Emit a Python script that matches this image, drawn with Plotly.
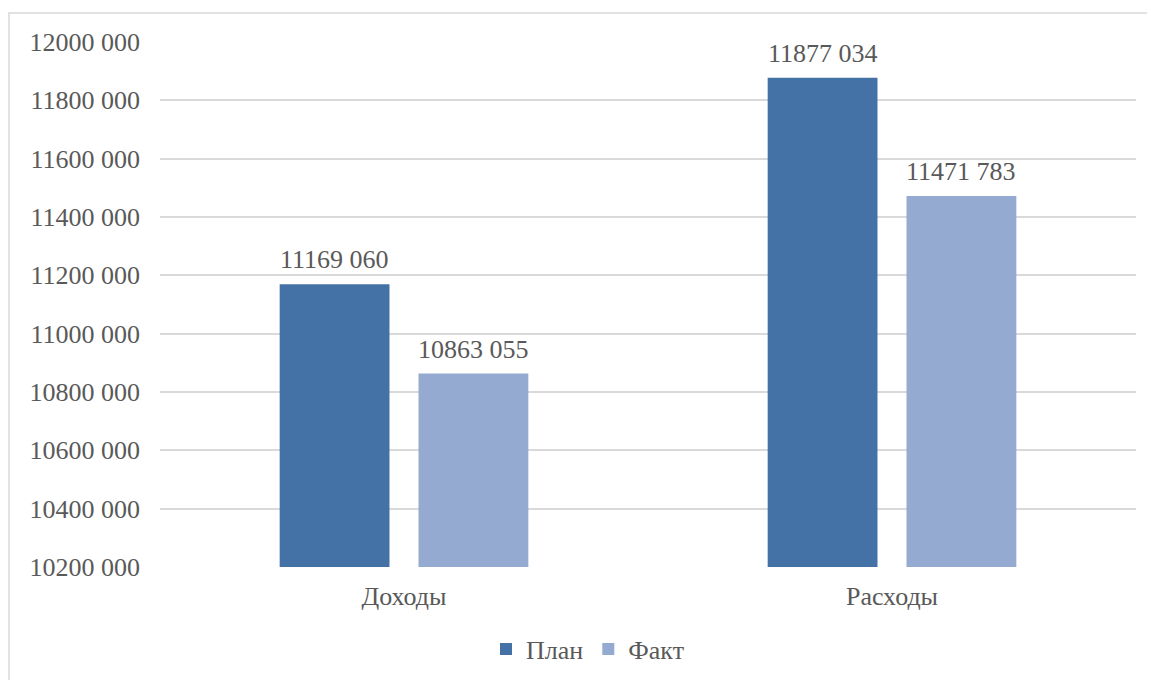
import plotly.graph_objects as go

categories = ["Доходы", "Расходы"]
plan_values = [11169060, 11877034]
fact_values = [10863055, 11471783]
series_names = ["План", "Факт"]
y_tick_values = [10200000, 10400000, 10600000, 10800000, 11000000,
                 11200000, 11400000, 11600000, 11800000, 12000000]


def fmt(v):
    return f"{v // 1000}\u00a0{v % 1000:03d}"


y_tick_text = [fmt(v) for v in y_tick_values]

W, H = 1155, 680
L, T = 152, 34
R = W - 1128
B = H - 559
FONT = "Liberation Serif"
FS = 26
TXT = "#595959"
C_PLAN = "#4472A6"
C_FACT = "#95AAD0"

fig = go.Figure()
fig.add_trace(go.Bar(name=series_names[0], x=categories, y=plan_values,
                     marker=dict(color=C_PLAN, line=dict(width=0))))
fig.add_trace(go.Bar(name=series_names[1], x=categories, y=fact_values,
                     marker=dict(color=C_FACT, line=dict(width=0))))

plot_w = W - L - R
plot_h = H - T - B
cat_w = plot_w / len(categories)
bargap = 0.431
slot = cat_w * (1 - bargap) / 2

for vals, sign in ((plan_values, -1), (fact_values, 1)):
    for c, v in zip(categories, vals):
        fig.add_annotation(x=c, y=v, text=fmt(v), showarrow=False,
                           xref="x", yref="y", yanchor="bottom",
                           xshift=sign * slot / 2, yshift=8,
                           font=dict(family=FONT, size=FS, color=TXT))

# chart-area border (only top and left visible in frame)
x0p = (1 - L) / plot_w
x1p = (W + 20 - L) / plot_w
y1p = (H - B - 5) / plot_h
y0p = (H - B - (H + 20)) / plot_h
fig.add_shape(type="rect", xref="paper", yref="paper",
              x0=x0p, x1=x1p, y0=y0p, y1=y1p,
              line=dict(color="#D9D9D9", width=1.5), layer="below")

fig.update_layout(
    width=W, height=H,
    margin=dict(l=L, r=R, t=T, b=B, autoexpand=False),
    paper_bgcolor="white", plot_bgcolor="white",
    barmode="group", bargap=bargap, bargroupgap=0.209,
    font=dict(family=FONT, size=FS, color=TXT),
    showlegend=True,
    legend=dict(orientation="h", x=(478 - L) / plot_w, xanchor="left",
                y=(H - B - 641) / plot_h, yanchor="middle",
                font=dict(family=FONT, size=FS, color=TXT),
                itemwidth=30, traceorder="normal"),
    xaxis=dict(showgrid=False, showline=False, ticks="",
               ticklabelstandoff=11,
               tickfont=dict(family=FONT, size=FS, color=TXT)),
    yaxis=dict(range=[10200000, 12000000], tickvals=y_tick_values,
               ticktext=y_tick_text, showgrid=True, gridcolor="#D9D9D9",
               gridwidth=1.5, zeroline=False, showline=False, ticks="",
               ticklabelstandoff=19,
               tickfont=dict(family=FONT, size=FS, color=TXT)),
)

fig.write_html("out.html")
